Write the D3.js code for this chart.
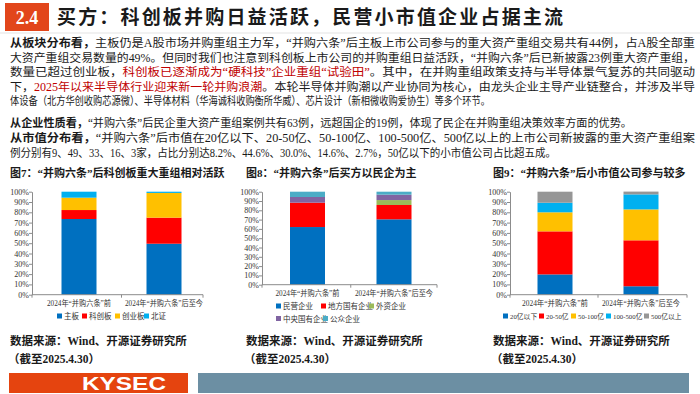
<!DOCTYPE html>
<meta charset="utf-8">
<style>
body { margin: 0; background: #fff; }
svg text { font-family: "Liberation Serif", "Noto Sans CJK SC", serif; fill: #1a1a1a; }
</style>
<script src="https://d3js.org/d3.v7.min.js"></script>
<body>
<svg id="slide" width="700" height="394"></svg>
<script>
// ---- data ----
var periods = ["2024年“并购六条”前", "2024年“并购六条”后至今"];

var boardSeries = ["主板", "科创板", "创业板", "北证"];
var boardMain = [73.5, 49.5];
var boardStar = [8.7, 25.3];
var boardGem = [12.0, 24.0];
var boardBse = [5.8, 1.2];

var ownerSeries = ["民营企业", "地方国有企业", "外资企业", "中央国有企业", "公众企业"];
var ownerPrivate = [62.0, 70.3];
var ownerLocalSoe = [26.2, 15.4];
var ownerForeign = [0.0, 5.3];
var ownerCentralSoe = [6.1, 5.8];
var ownerPublic = [5.7, 3.2];

var capSeries = ["20亿以下", "20-50亿", "50-100亿", "100-500亿", "500亿以上"];
var capUnder20 = [19.7, 8.2];
var cap20to50 = [41.8, 44.6];
var cap50to100 = [18.5, 30.0];
var cap100to500 = [9.3, 14.6];
var capOver500 = [10.7, 2.7];

var yTicks = [0, 10, 20, 30, 40, 50, 60, 70, 80, 90, 100];

var svg = d3.select("#slide");

// ---- header ----
svg.append("rect").attr("x", 5).attr("y", 3).attr("width", 44).attr("height", 28).attr("fill", "#e2461b");
svg.append("text").attr("x", 27).attr("y", 24).attr("text-anchor", "middle")
  .style("font-size", "18px").style("font-weight", "bold").style("fill", "#fff").text("2.4");
svg.append("text").attr("x", 57).attr("y", 24)
  .attr("textLength", 506).attr("lengthAdjust", "spacing")
  .style("font-size", "19px").style("font-weight", "bold")
  .text("买方：科创板并购日益活跃，民营小市值企业占据主流");
svg.append("line").attr("x1", 0).attr("x2", 700).attr("y1", 33).attr("y2", 33)
  .attr("stroke", "#e3e3e3").attr("stroke-width", 1);

// ---- body text ----
var red = "#c00000";
var lines = [
  {y: 47, w: 685, parts: [["从板块分布看，", "b"], ["主板仍是A股市场并购重组主力军，“并购六条”后主板上市公司参与的重大资产重组交易共有44例，占A股全部重"]]},
  {y: 61.5, w: 685, parts: [["大资产重组交易数量的49%。但同时我们也注意到科创板上市公司的并购重组日益活跃，“并购六条”后已新披露23例重大资产重组，"]]},
  {y: 76, w: 685, parts: [["数量已超过创业板，"], ["科创板已逐渐成为“硬科技”企业重组“试验田”", "r"], ["。其中，在并购重组政策支持与半导体景气复苏的共同驱动"]]},
  {y: 90.5, w: 685, parts: [["下，"], ["2025年以来半导体行业迎来新一轮并购浪潮", "r"], ["。本轮半导体并购潮以产业协同为核心，由龙头企业主导产业链整合，并涉及半导"]]},
  {y: 105, w: 480, parts: [["体设备（北方华创收购芯源微）、半导体材料（华海诚科收购衡所华威）、芯片设计（新相微收购爱协生）等多个环节。"]]},
  {y: 127, w: 622, parts: [["从企业性质看，", "b"], ["“并购六条”后民企重大资产重组案例共有63例，远超国企的19例，体现了民企在并购重组决策效率方面的优势。"]]},
  {y: 142, w: 685, parts: [["从市值分布看，", "b"], ["“并购六条”后市值在20亿以下、20-50亿、50-100亿、100-500亿、500亿以上的上市公司新披露的重大资产重组案"]]},
  {y: 156.5, w: 546, parts: [["例分别有9、49、33、16、3家，占比分别达8.2%、44.6%、30.0%、14.6%、2.7%，50亿以下的小市值公司占比超五成。"]]}
];
lines.forEach(function(l) {
  var t = svg.append("text").attr("x", 10).attr("y", l.y)
    .attr("textLength", l.w).attr("lengthAdjust", "spacingAndGlyphs")
    .style("font-size", "11.5px");
  l.parts.forEach(function(p) {
    var s = t.append("tspan").text(p[0]);
    if (p[1] === "b") s.style("font-weight", "bold");
    if (p[1] === "r") s.style("fill", red);
  });
});

// ---- charts ----
function drawChart(o) {
  var g = svg.append("g");
  g.append("text").attr("x", o.titleX).attr("y", 177)
    .style("font-size", "11px").style("font-weight", "bold").text(o.title);

  var y = d3.scaleLinear().domain([0, 100]).range([o.bottom, o.top]);
  var x = d3.scalePoint().domain(periods).range(o.centers);

  var rows = periods.map(function(p, i) {
    var r = {period: p};
    o.series.forEach(function(s, k) { r[s] = o.values[k][i]; });
    return r;
  });
  var stacked = d3.stack().keys(o.series)(rows);

  g.selectAll("g.layer").data(stacked).join("g")
    .attr("fill", function(d, k) { return o.colors[k]; })
    .selectAll("rect").data(function(d) { return d; }).join("rect")
    .attr("x", function(d) { return x(d.data.period) - o.barW / 2; })
    .attr("width", o.barW)
    .attr("y", function(d) { return y(d[1]); })
    .attr("height", function(d) { return y(d[0]) - y(d[1]); });

  var ax = g.append("g").attr("transform", "translate(" + o.axisX + ",0)")
    .call(d3.axisLeft(y).tickValues(yTicks).tickFormat(function(d) { return d + "%"; }).tickSize(3).tickSizeOuter(0));
  ax.select(".domain").attr("stroke", "#8c8c8c");
  ax.selectAll(".tick line").attr("stroke", "#8c8c8c");
  ax.selectAll(".tick text").attr("x", -3).style("font-size", "8px")
    .style("font-family", "Liberation Serif").style("fill", "#333");

  g.append("line").attr("x1", o.axisX).attr("x2", o.axisEnd).attr("y1", o.bottom).attr("y2", o.bottom)
    .attr("stroke", "#8c8c8c");
  [o.axisX, (o.centers[0] + o.centers[1]) / 2, o.axisEnd].forEach(function(tx) {
    g.append("line").attr("x1", tx).attr("x2", tx).attr("y1", o.bottom).attr("y2", o.bottom + 3)
      .attr("stroke", "#8c8c8c");
  });
  g.selectAll("text.cat").data(periods).join("text").attr("class", "cat")
    .attr("x", function(d) { return x(d); }).attr("y", o.bottom + 11)
    .attr("text-anchor", "middle")
    .attr("textLength", function(d, i) { return o.catW[i]; }).attr("lengthAdjust", "spacingAndGlyphs")
    .style("font-size", "7.5px").style("fill", "#333")
    .text(function(d) { return d; });

  o.series.forEach(function(s, k) {
    var p = o.legend[k];
    g.append("rect").attr("x", p[0]).attr("y", p[1] - 3).attr("width", 5).attr("height", 5).attr("fill", o.colors[k]);
    g.append("text").attr("x", p[0] + 7).attr("y", p[1] + 2.5).style("font-size", o.legendFont || "7.5px")
      .style("fill", "#333").text(s);
  });

  g.append("text").attr("x", o.titleX).attr("y", 345)
    .style("font-size", "11.5px").style("font-weight", "bold").text("数据来源：Wind、开源证券研究所");
  g.append("text").attr("x", o.titleX - 2).attr("y", 363)
    .style("font-size", "11.5px").style("font-weight", "bold").text("（截至2025.4.30）");
}

drawChart({
  title: "图7：“并购六条”后科创板重大重组相对活跃", titleX: 10,
  axisX: 32, axisEnd: 203, top: 191.7, bottom: 294.7, centers: [79, 164], barW: 35, catW: [64, 78],
  series: boardSeries, values: [boardMain, boardStar, boardGem, boardBse],
  colors: ["#0070c0", "#ff0000", "#ffc000", "#00b0f0"],
  legend: [[57, 316.5], [82, 316.5], [115, 316.5], [144, 316.5]]
});

drawChart({
  title: "图8：“并购六条”后买方以民企为主", titleX: 246,
  axisX: 262, axisEnd: 437, top: 191.7, bottom: 284.7, centers: [307.5, 394], barW: 35, catW: [64, 78],
  series: ownerSeries, values: [ownerPrivate, ownerLocalSoe, ownerForeign, ownerCentralSoe, ownerPublic],
  colors: ["#0070c0", "#ff0000", "#9bbb59", "#8064a2", "#4bacc6"],
  legend: [[276, 306.5], [321, 306.5], [369, 306.5], [276, 319], [323, 319]]
});

drawChart({
  title: "图9：“并购六条”后小市值公司参与较多", titleX: 493,
  axisX: 510, axisEnd: 687, top: 191.7, bottom: 294.7, centers: [555, 641], barW: 35, catW: [66, 78],
  series: capSeries, values: [capUnder20, cap20to50, cap50to100, cap100to500, capOver500],
  colors: ["#0070c0", "#ff0000", "#ffc000", "#00b0f0", "#969696"],
  legend: [[503, 316.5], [539, 316.5], [571, 316.5], [606, 316.5], [644, 316.5]], legendFont: "6.8px"
});

// ---- footer ----
svg.append("rect").attr("x", 9).attr("y", 373).attr("width", 179).attr("height", 20).attr("fill", "#e5440f");
svg.append("text").attr("x", 124).attr("y", 390).attr("text-anchor", "middle")
  .attr("textLength", 84).attr("lengthAdjust", "spacingAndGlyphs")
  .style("font-family", "Liberation Sans").style("font-size", "19px").style("font-weight", "bold")
  .style("fill", "#fff").text("KYSEC");
svg.append("rect").attr("x", 198).attr("y", 373).attr("width", 491).attr("height", 20).attr("fill", "#6c8fa3");
</script>
</body>
